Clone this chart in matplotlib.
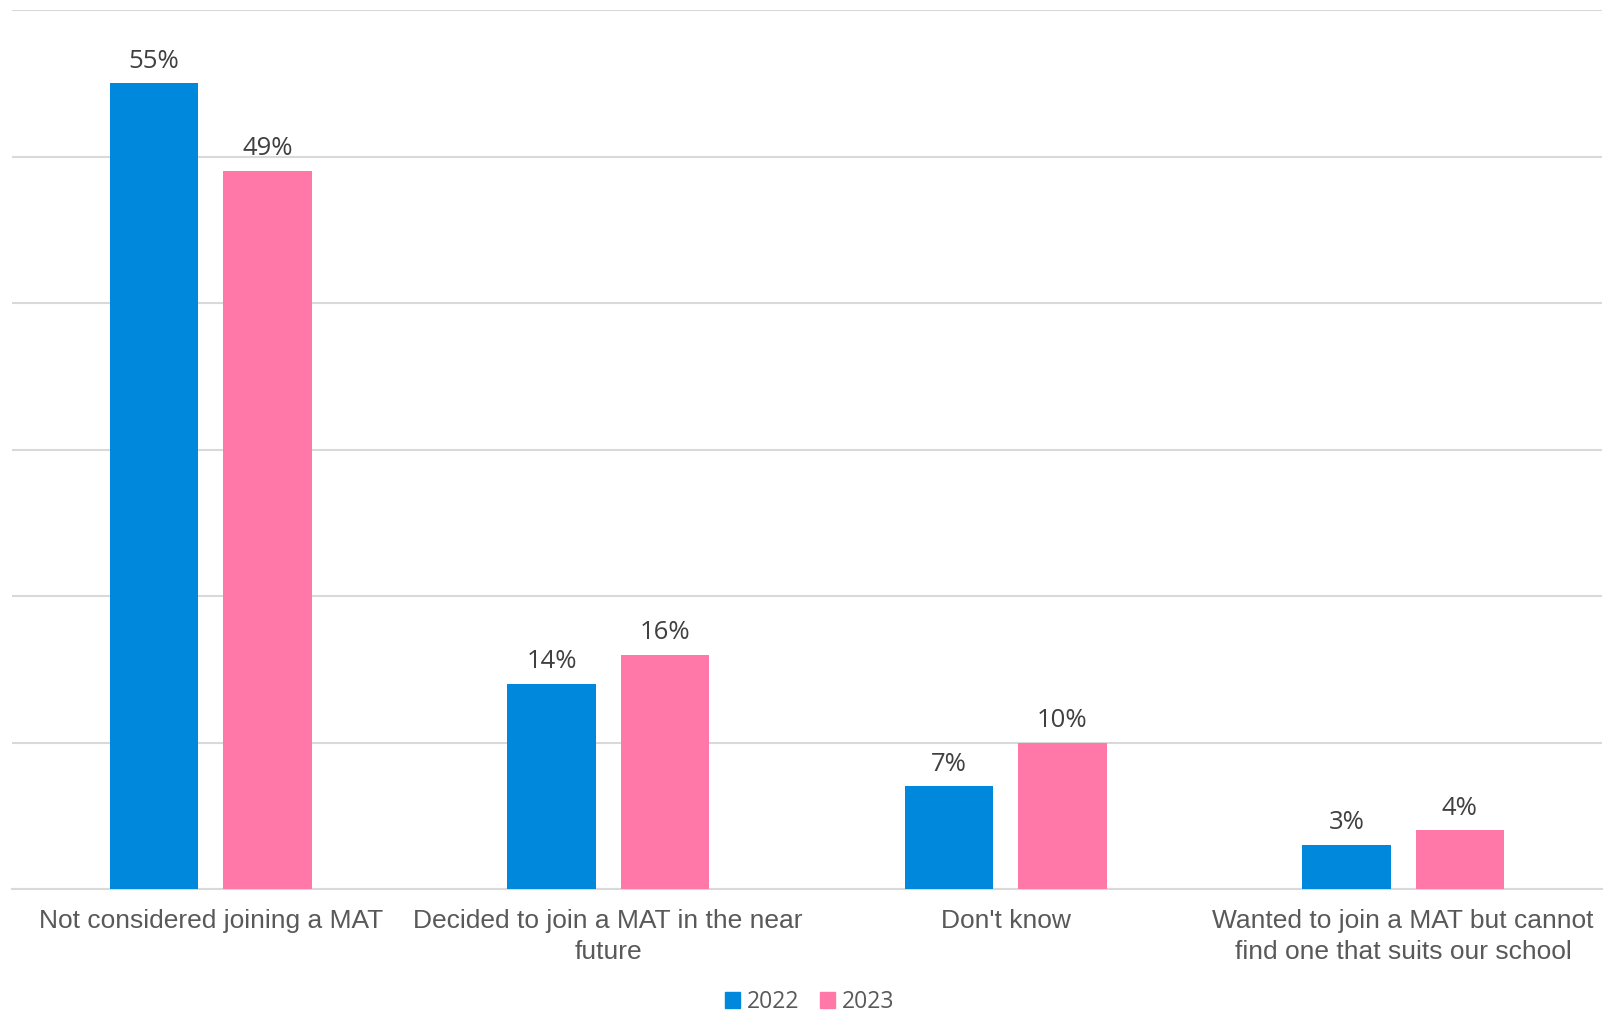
import matplotlib
matplotlib.use("Agg")
import matplotlib.pyplot as plt
from matplotlib.patches import Patch
import numpy as np

categories = [
    "Not considered joining a MAT",
    "Decided to join a MAT in the near\nfuture",
    "Don't know",
    "Wanted to join a MAT but cannot\nfind one that suits our school",
]
series_names = ["2022", "2023"]
values_2022 = [55, 14, 7, 3]
values_2023 = [49, 16, 10, 4]

colors = ["#0088DD", "#FF78A8"]
W, H = 1606, 1014
fig = plt.figure(figsize=(W / 100, H / 100), dpi=100)
ax = fig.add_axes([12 / W, (H - 889) / H, (1602 - 12) / W, (889 - 10) / H])

x = np.arange(len(categories))
width = 0.223
offset = 0.1425
for vals, col, sign in [(values_2022, colors[0], -1), (values_2023, colors[1], 1)]:
    bars = ax.bar(x + sign * offset, vals, width, color=col, zorder=3)
    for b, v in zip(bars, vals):
        ax.annotate(f"{v}%", (b.get_x() + b.get_width() / 2, v),
                    xytext=(0, 7), textcoords="offset points",
                    ha="center", va="bottom", fontsize=18.5,
                    family="Open Sans", color="#404040")

ax.set_xlim(-0.5, len(categories) - 0.5)
ax.set_ylim(0, 60)
ax.set_yticks(np.arange(0, 61, 10))
ax.yaxis.grid(True, color="#d9d9d9", linewidth=1.5, zorder=0)
ax.tick_params(axis="y", left=False, labelleft=False)
ax.tick_params(axis="x", bottom=False, pad=11)
ax.set_xticks(x)
ax.set_xticklabels(categories, fontsize=19, family="Liberation Sans",
                   color="#595959", linespacing=1.35)
for s in ["top", "right", "left"]:
    ax.spines[s].set_visible(False)
ax.spines["bottom"].set_color("#d9d9d9")
ax.spines["bottom"].set_linewidth(1.5)

handles = [Patch(color=c, label=n) for c, n in zip(colors, series_names)]
fig.legend(handles=handles, loc="center", bbox_to_anchor=(810 / W, (H - 1002) / H),
           ncol=2, frameon=False, prop={"family": "Open Sans", "size": 16.5},
           handlelength=0.66, handleheight=0.66, handletextpad=0.3,
           columnspacing=0.9, labelcolor="#595959", borderpad=0)

fig.savefig("out.png", dpi=100, facecolor="white")
